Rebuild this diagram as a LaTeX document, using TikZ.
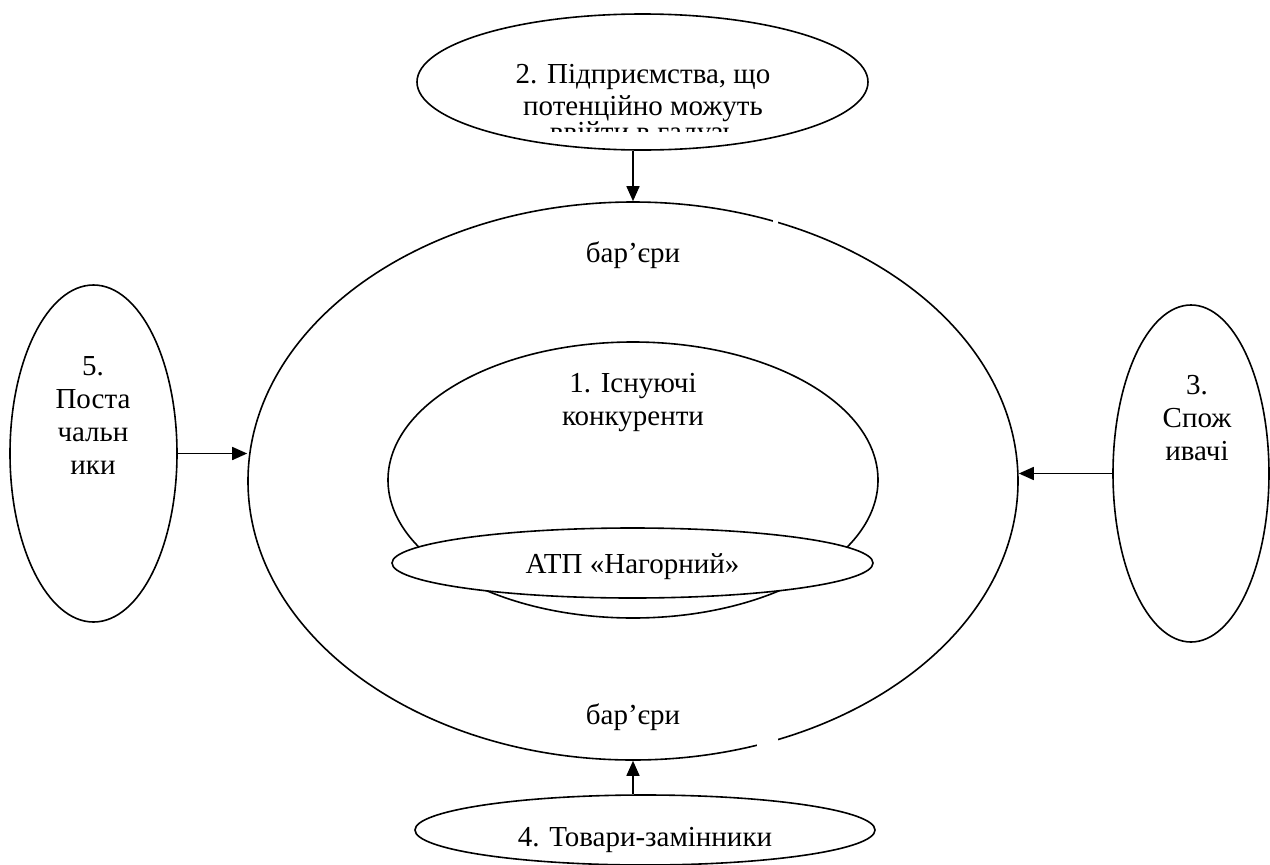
\documentclass[tikz,border=0pt]{standalone}
\usepackage{fontspec}
\setmainfont{Liberation Serif}
\usetikzlibrary{shapes.geometric,arrows.meta}
\begin{document}
\begin{tikzpicture}[x=1pt,y=-1pt,
  oval/.style={ellipse,draw,line width=1.6pt,inner sep=0pt},
  lbl/.style={font=\fontsize{29}{33}\selectfont,inner sep=0pt,anchor=base},
  arr/.style={line width=1.6pt,-{Triangle[length=15pt,width=13pt]}}]
\useasboundingbox (0,0) rectangle (1270,865);

% market barriers ring
\node[oval,minimum width=770pt,minimum height=558pt] (big) at (633,481) {};
% small breaks in the outer ring
\fill[white] (773,213) rectangle (778,229);
\fill[white] (757,733) rectangle (778,753);
\node[lbl] (bar1) at (633,262) {бар’єри};
\node[lbl] (bar2) at (633,724) {бар’єри};

% existing competitors
\node[oval,minimum width=490pt,minimum height=276pt] (comp) at (633,480) {};
\node[lbl] (comp1) at (633,392) {1. Існуючі};
\node[lbl] (comp2) at (633,425) {конкуренти};

% the firm itself
\node[oval,fill=white,minimum width=481pt,minimum height=70pt] (atp) at (632.5,563) {};
\node[lbl] (atpt) at (632.5,573) {АТП «Нагорний»};

% potential entrants
\node[oval,minimum width=451pt,minimum height=136pt] (pot) at (642.5,82) {};
\node[lbl] (pot1) at (643,83) {2. Підприємства, що};
\node[lbl] (pot2) at (643,115) {потенційно можуть};
\begin{scope}
  \clip (420,0) rectangle (865,131);
  \node[lbl] (pot3) at (643,141) {ввійти в галузь};
\end{scope}

% suppliers
\node[oval,minimum width=167pt,minimum height=337pt] (sup) at (93.5,453.5) {};
\node[lbl] (sup1) at (93,375) {5.};
\node[lbl] (sup2) at (93,408) {Поста};
\node[lbl] (sup3) at (93,441) {чальн};
\node[lbl] (sup4) at (93,474) {ики};

% consumers
\node[oval,minimum width=156pt,minimum height=337pt] (cons) at (1191,473.5) {};
\node[lbl] (cons1) at (1197,394) {3.};
\node[lbl] (cons2) at (1197,427) {Спож};
\node[lbl] (cons3) at (1197,460) {ивачі};

% substitutes
\node[oval,minimum width=460pt,minimum height=70pt] (subst) at (645,830) {};
\node[lbl] (subst1) at (645,846) {4. Товари-замінники};

% forces acting on the industry
\draw[arr] (pot.south -| big.north) -- (big.north);
\draw[arr] (subst.north -| big.south) -- (big.south);
\draw[arr] (sup.east) -- (sup.east -| big.west);
\draw[arr] (cons.west) -- (cons.west -| big.east);
\end{tikzpicture}
\end{document}
